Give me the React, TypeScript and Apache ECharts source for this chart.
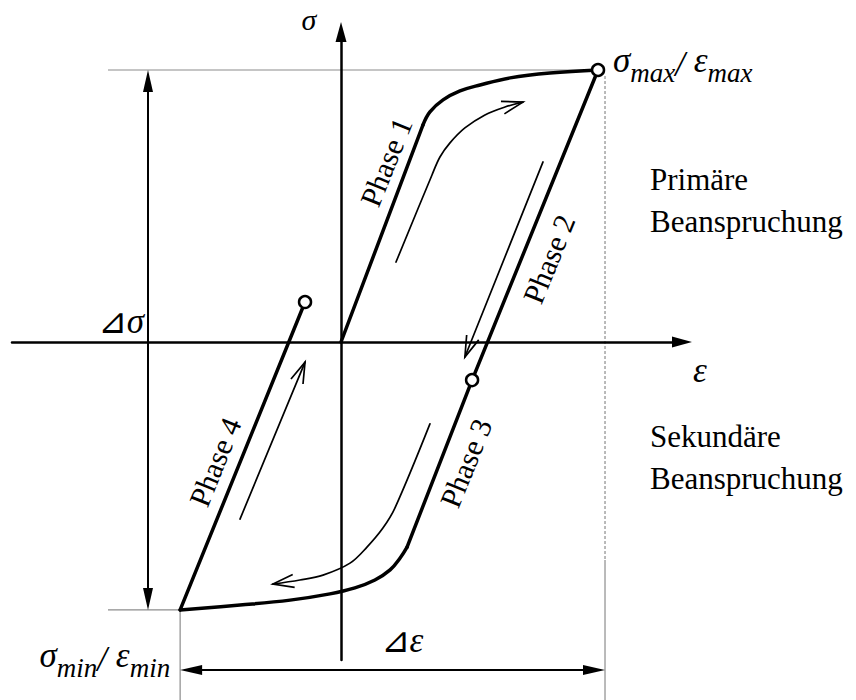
import { useEffect, useRef } from 'react';
import * as echarts from 'echarts';

const SERIF = "'Liberation Serif', 'DejaVu Serif', serif";

// Hysteresis path in normalised units: x = ε / εmax, y = σ / σmax
const phase1Linear = [[0, 0], [0.319, 0.798]];
const phase1Knee = [
  [0.319, 0.798], [0.346, 0.846], [0.397, 0.89], [0.463, 0.923],
  [0.541, 0.945], [0.658, 0.971], [0.813, 0.989], [1, 1],
];
const phase2Linear = [[1, 1], [0.51, -0.14]];
const phase3Linear = [[0.51, -0.14], [0.257, -0.754]];
const phase3Knee = [
  [0.257, -0.754], [0.23, -0.794], [0.191, -0.838], [0.132, -0.875],
  [0.054, -0.904], [-0.043, -0.926], [-0.198, -0.949], [-0.393, -0.967], [-0.626, -0.985],
];
const phase4Linear = [[-0.626, -0.985], [-0.14, 0.147]];
const reversalPoints = [[1, 1], [0.51, -0.14], [-0.14, 0.147]];
const upperPeak = [1, 1];
const lowerPeak = [-0.626, -0.985];

// Thin direction arrows running beside each phase
const arrowPhase1 = [
  [0.214, 0.294], [0.354, 0.614], [0.385, 0.68], [0.424, 0.732],
  [0.482, 0.787], [0.56, 0.835], [0.638, 0.864], [0.708, 0.882],
];
const arrowPhase2 = [[0.786, 0.662], [0.482, -0.055]];
const arrowPhase3 = [
  [0.346, -0.301], [0.21, -0.61], [0.163, -0.684], [0.101, -0.754],
  [0.035, -0.813], [-0.07, -0.857], [-0.16, -0.875], [-0.265, -0.89],
];
const arrowPhase4 = [[-0.393, -0.651], [-0.14, -0.074]];

const phaseNames = ['Phase 1', 'Phase 2', 'Phase 3', 'Phase 4'];
const phaseLabelAt = [[0.175, 0.662], [0.809, 0.305], [0.486, -0.445], [-0.49, -0.441]];

const regionTitles = [
  ['Primäre', 'Beanspruchung'],
  ['Sekundäre', 'Beanspruchung'],
];

// Plot box in pixels and the value range it spans
const GRID = { left: 12, top: 32, width: 670, height: 628 };
const X_RANGE = [-1.2802, 1.3268];
const Y_RANGE = [-1.1691, 1.1397];

const MAIN_SIZE = 35;
const SUB_SIZE = 27;

const curve = (data: number[][], width: number, smooth: number | boolean) => ({
  type: 'line',
  data,
  symbol: 'none',
  smooth,
  silent: true,
  clip: false,
  z: 3,
  lineStyle: { color: '#000', width, cap: 'round', join: 'round' },
});

const hiddenAxis = (range: number[]) => ({
  type: 'value',
  min: range[0],
  max: range[1],
  axisLine: {
    show: true,
    onZero: true,
    symbol: ['none', 'triangle'],
    symbolSize: [11, 20],
    lineStyle: { color: '#000', width: 2.5 },
  },
  axisTick: { show: false },
  axisLabel: { show: false },
  splitLine: { show: false },
});

let measureCtx: CanvasRenderingContext2D | null = null;
const textWidth = (text: string, size: number, italic: boolean) => {
  if (!measureCtx) measureCtx = document.createElement('canvas').getContext('2d');
  if (!measureCtx) return text.length * size * 0.5;
  measureCtx.font = `${italic ? 'italic ' : ''}${size}px ${SERIF}`;
  return measureCtx.measureText(text).width;
};

// Quantity with subscripts, e.g. σ_max / ε_max, laid out piece by piece from a baseline
const subscripted = (
  pieces: { t: string; sub?: boolean; upright?: boolean }[],
  left: number,
  baseline: number,
) => {
  const out: any[] = [];
  let x = left;
  for (const p of pieces) {
    const size = p.sub ? SUB_SIZE : MAIN_SIZE;
    const base = p.sub ? baseline + 10 : p.t.startsWith('/') ? baseline + 4 : baseline;
    out.push({
      type: 'text',
      x,
      y: base - 0.34 * size,
      silent: true,
      z: 10,
      style: {
        text: p.t,
        fill: '#000',
        fontSize: size,
        fontStyle: p.upright ? 'normal' : 'italic',
        fontFamily: SERIF,
        align: 'left',
        verticalAlign: 'middle',
      },
    });
    x += textWidth(p.t, size, !p.upright);
  }
  return { items: out, width: x - left };
};

export default function App() {
  const ref = useRef<HTMLDivElement>(null);

  useEffect(() => {
    if (!ref.current) return;
    const chart = echarts.init(ref.current, null, { renderer: 'svg' });

    const arrows = [arrowPhase1, arrowPhase2, arrowPhase3, arrowPhase4];
    const heads = arrows.map((a) => [...a[a.length - 1], ...a[a.length - 2]]);

    chart.setOption({
      animation: false,
      backgroundColor: '#fff',
      grid: { ...GRID, containLabel: false, outerBoundsMode: 'none' },
      xAxis: hiddenAxis(X_RANGE),
      yAxis: hiddenAxis(Y_RANGE),
      series: [
        curve(phase1Linear, 3.5, false),
        curve(phase1Knee, 3.5, 0.4),
        curve(phase2Linear, 3.5, false),
        curve(phase3Linear, 3.5, false),
        curve(phase3Knee, 3.5, 0.4),
        curve(phase4Linear, 3.5, false),
        curve(arrowPhase1, 1.7, 0.35),
        curve(arrowPhase2, 1.7, false),
        curve(arrowPhase3, 1.7, 0.35),
        curve(arrowPhase4, 1.7, false),
        {
          type: 'custom',
          data: heads,
          silent: true,
          z: 4,
          encode: { x: [0, 2], y: [1, 3] },
          renderItem: (_params: any, api: any) => {
            const tip = api.coord([api.value(0), api.value(1)]);
            const from = api.coord([api.value(2), api.value(3)]);
            const ang = Math.atan2(tip[1] - from[1], tip[0] - from[0]);
            const len = 22;
            const spread = 0.3;
            const w1 = [tip[0] - len * Math.cos(ang - spread), tip[1] - len * Math.sin(ang - spread)];
            const w2 = [tip[0] - len * Math.cos(ang + spread), tip[1] - len * Math.sin(ang + spread)];
            return {
              type: 'polyline',
              shape: { points: [w1, tip, w2] },
              style: { stroke: '#000', lineWidth: 1.7, fill: 'none' },
            };
          },
        },
        {
          type: 'scatter',
          data: reversalPoints,
          symbol: 'circle',
          symbolSize: 12,
          silent: true,
          z: 6,
          itemStyle: { color: '#fff', borderColor: '#000', borderWidth: 2.5, opacity: 1 },
        },
      ],
    });

    const px = (v: number[]) => chart.convertToPixel({ gridIndex: 0 }, v) as number[];
    const top = px(upperPeak);
    const bot = px(lowerPeak);
    const extX = top[0] + 7;
    const dimX = 148;
    const dimY = 670;
    const gray = { stroke: '#8c8c8c', lineWidth: 1.2 };
    const ink = { stroke: '#000', lineWidth: 2 };
    const head = 22;
    const slope = (68 * Math.PI) / 180;

    const plain = (text: string, x: number, y: number, extra: any = {}) => ({
      type: 'text',
      x,
      y,
      silent: true,
      z: 10,
      style: {
        text,
        fill: '#000',
        fontSize: 31,
        fontFamily: SERIF,
        align: 'left',
        verticalAlign: 'middle',
        ...extra,
      },
    });

    const maxLabel = subscripted(
      [{ t: 'σ' }, { t: 'max', sub: true }, { t: '/ ' }, { t: 'ε' }, { t: 'max', sub: true }],
      top[0] + 15,
      top[1] + 2,
    );
    const minPieces = [{ t: 'σ' }, { t: 'min', sub: true }, { t: '/ ' }, { t: 'ε' }, { t: 'min', sub: true }];
    const minProbe = subscripted(minPieces, 0, 0);
    const minLabel = subscripted(minPieces, bot[0] - 10 - minProbe.width, bot[1] + 57);

    // Δσ: upright triangle sign with italic σ, ending just left of the dimension line
    const dSigmaPieces = [{ t: '⊿', upright: true }, { t: 'σ' }];
    const dSigmaProbe = subscripted(dSigmaPieces, 0, 0);
    const dSigma = subscripted(dSigmaPieces, dimX - 4 - dSigmaProbe.width, 333);
    const dEpsPieces = [{ t: '⊿', upright: true }, { t: 'ε' }];
    const dEpsProbe = subscripted(dEpsPieces, 0, 0);
    const dEps = subscripted(dEpsPieces, 402 - dEpsProbe.width / 2, 652);

    const phaseLabels = phaseLabelAt.map((p, i) => {
      const c = px(p);
      return {
        type: 'text',
        x: c[0],
        y: c[1],
        rotation: slope,
        silent: true,
        z: 10,
        style: {
          text: phaseNames[i],
          fill: '#000',
          fontSize: 30,
          fontFamily: SERIF,
          fontStyle: 'normal',
          align: 'center',
          verticalAlign: 'middle',
        },
      };
    });

    const graphic: any[] = [
      { type: 'line', silent: true, shape: { x1: 108, y1: top[1], x2: top[0], y2: top[1] }, style: gray },
      { type: 'line', silent: true, shape: { x1: 108, y1: bot[1], x2: bot[0], y2: bot[1] }, style: gray },
      { type: 'line', silent: true, shape: { x1: extX, y1: top[1] + 6, x2: extX, y2: 560 }, style: { ...gray, lineDash: [3, 2] } },
      { type: 'line', silent: true, shape: { x1: extX, y1: 560, x2: extX, y2: 700 }, style: gray },
      { type: 'line', silent: true, shape: { x1: bot[0], y1: bot[1], x2: bot[0], y2: 700 }, style: gray },
      // Δσ dimension
      { type: 'line', silent: true, shape: { x1: dimX, y1: top[1] + head - 2, x2: dimX, y2: bot[1] - head + 2 }, style: ink },
      { type: 'polygon', silent: true, shape: { points: [[dimX, top[1]], [dimX - 5, top[1] + head], [dimX + 5, top[1] + head]] }, style: { fill: '#000' } },
      { type: 'polygon', silent: true, shape: { points: [[dimX, bot[1]], [dimX - 5, bot[1] - head], [dimX + 5, bot[1] - head]] }, style: { fill: '#000' } },
      // Δε dimension
      { type: 'line', silent: true, shape: { x1: bot[0] + head - 2, y1: dimY, x2: extX - head + 2, y2: dimY }, style: ink },
      { type: 'polygon', silent: true, shape: { points: [[bot[0], dimY], [bot[0] + head, dimY - 5], [bot[0] + head, dimY + 5]] }, style: { fill: '#000' } },
      { type: 'polygon', silent: true, shape: { points: [[extX, dimY], [extX - head, dimY - 5], [extX - head, dimY + 5]] }, style: { fill: '#000' } },
      // axis symbols
      plain('σ', 309, 19, { fontStyle: 'italic', fontSize: 30, align: 'center' }),
      plain('ε', 700, 370, { fontStyle: 'italic', fontSize: 35, align: 'center' }),
      ...dSigma.items,
      ...dEps.items,
      ...maxLabel.items,
      ...minLabel.items,
      ...phaseLabels,
      plain(regionTitles[0][0], 650, 179),
      plain(regionTitles[0][1], 650, 221),
      plain(regionTitles[1][0], 650, 436),
      plain(regionTitles[1][1], 650, 478),
    ];

    chart.setOption({ graphic });

    return () => chart.dispose();
  }, []);

  return (
    <div
      ref={ref}
      style={{ position: 'fixed', left: 0, top: 0, width: 856, height: 700, background: '#fff' }}
    />
  );
}
